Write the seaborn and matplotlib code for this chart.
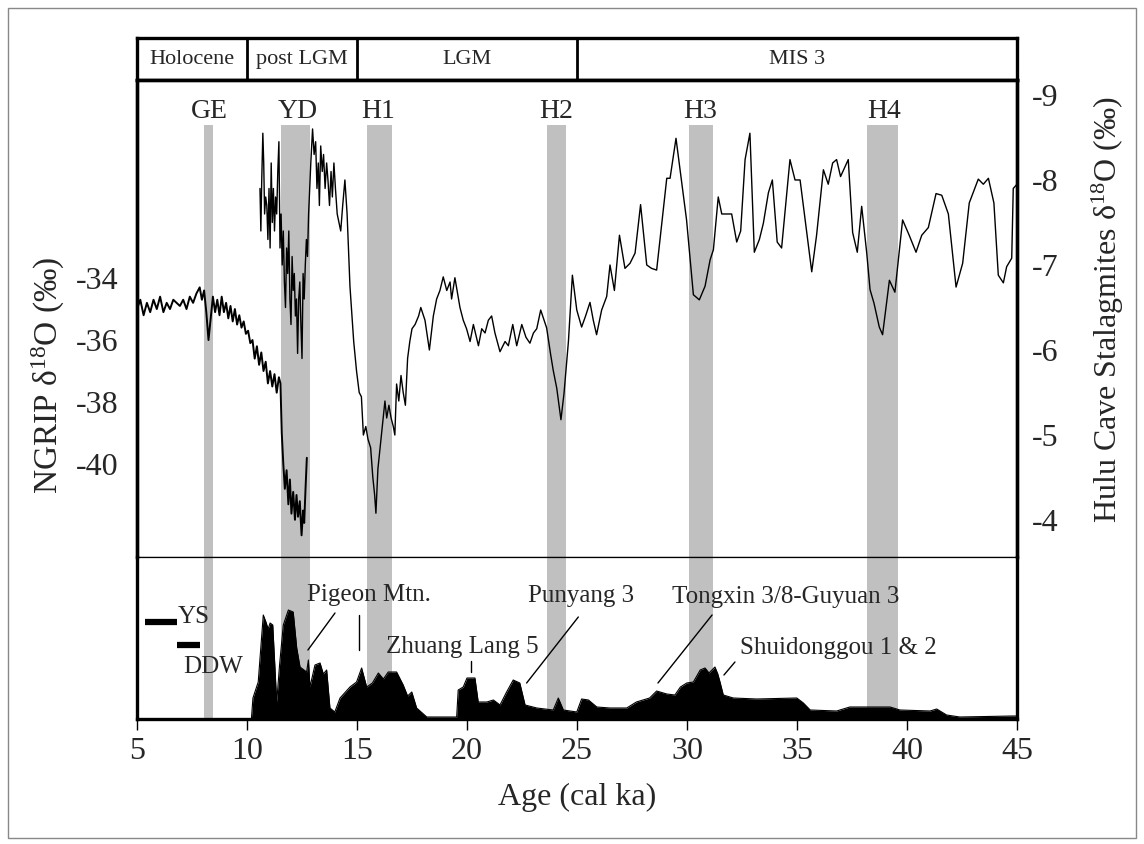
import seaborn as sns
import matplotlib.pyplot as plt
from matplotlib.patches import Rectangle

# NGRIP d18O (left axis), 5 - 12.7 ka
ngrip_age = [5.0, 5.15, 5.3, 5.45, 5.6, 5.75, 5.9, 6.05, 6.2, 6.35, 6.5, 6.65, 6.8, 6.95,
             7.1, 7.25, 7.4, 7.55, 7.7, 7.85, 7.95, 8.05, 8.15, 8.25, 8.35, 8.45, 8.55, 8.65,
             8.75, 8.85, 8.95, 9.05, 9.15, 9.25, 9.35, 9.45, 9.55, 9.65, 9.75, 9.85, 9.95,
             10.05, 10.15, 10.25, 10.35, 10.45, 10.55, 10.65, 10.75, 10.85, 10.95, 11.05,
             11.15, 11.25, 11.35, 11.45, 11.52, 11.58, 11.65, 11.72, 11.8, 11.88, 11.95,
             12.02, 12.1, 12.18, 12.25, 12.32, 12.4, 12.48, 12.55, 12.6, 12.66, 12.72]
ngrip_d18o = [-35.0, -34.7, -35.2, -34.8, -35.1, -34.7, -35.0, -34.6, -35.1, -34.8, -35.0,
              -34.7, -34.8, -34.9, -34.7, -35.0, -34.6, -34.8, -34.5, -34.3, -34.7, -34.4,
              -35.1, -36.0, -35.3, -34.6, -35.1, -34.7, -35.2, -34.6, -35.1, -34.8, -35.3,
              -34.9, -35.4, -35.0, -35.5, -35.2, -35.6, -35.4, -35.8, -35.7, -36.1, -36.0,
              -36.6, -36.2, -36.8, -36.4, -37.0, -36.7, -37.4, -37.0, -37.5, -37.1, -37.7,
              -37.2, -37.4, -39.0, -40.0, -40.8, -40.2, -41.3, -40.5, -41.6, -40.9, -41.8,
              -41.0, -41.7, -41.2, -42.3, -41.5, -41.9, -40.8, -39.8]

# Hulu Cave stalagmites d18O (right axis), 10.6 - 45 ka
hulu_age = [10.59, 10.63, 10.67, 10.72, 10.76, 10.8, 10.85, 10.9, 10.95, 11.0, 11.05, 11.1,
            11.15, 11.2, 11.25, 11.3, 11.35, 11.4, 11.45, 11.5, 11.55, 11.6, 11.65, 11.7,
            11.75, 11.8, 11.85, 11.9, 11.95, 12.0, 12.05, 12.1, 12.15, 12.2, 12.25, 12.3,
            12.35, 12.4, 12.45, 12.5, 12.55, 12.6, 12.65, 12.7, 12.75, 12.8, 12.85, 12.9,
            12.98, 13.05, 13.12, 13.18, 13.24, 13.29, 13.35, 13.42, 13.48, 13.55, 13.62,
            13.68, 13.75, 13.82, 13.88, 13.95, 14.02, 14.1, 14.18, 14.26, 14.35, 14.45,
            14.55, 14.68, 14.85, 14.98, 15.1, 15.2, 15.29, 15.4, 15.5, 15.62, 15.72, 15.8,
            15.86, 15.95, 16.05, 16.15, 16.27, 16.35, 16.45, 16.55, 16.65, 16.72, 16.8,
            16.9, 17.0, 17.1, 17.2, 17.3, 17.4, 17.5, 17.64, 17.8, 17.9, 18.09, 18.29,
            18.47, 18.62, 18.77, 18.92, 19.08, 19.23, 19.3, 19.45, 19.68, 19.83, 19.98,
            20.14, 20.29, 20.52, 20.67, 20.82, 20.97, 21.12, 21.27, 21.5, 21.73, 21.88,
            22.08, 22.26, 22.49, 22.68, 22.86, 23.02, 23.17, 23.35, 23.62, 23.8, 23.92,
            24.08, 24.27, 24.41, 24.61, 24.79, 24.99, 25.21, 25.39, 25.59, 25.74, 25.89,
            26.12, 26.35, 26.5, 26.7, 26.93, 27.18, 27.41, 27.64, 27.89, 28.17, 28.39,
            28.62, 29.08, 29.23, 29.5, 29.98, 30.29, 30.56, 30.82, 31.05, 31.2, 31.42,
            31.58, 32.03, 32.26, 32.44, 32.64, 32.86, 33.06, 33.29, 33.47, 33.7, 33.88,
            34.1, 34.3, 34.68, 34.91, 35.14, 35.67, 35.89, 36.2, 36.42, 36.62, 36.8,
            36.98, 37.33, 37.53, 37.74, 37.94, 38.17, 38.32, 38.5, 38.74, 38.89, 39.2,
            39.45, 39.8, 40.1, 40.41, 40.67, 40.97, 41.32, 41.58, 41.88, 42.23, 42.53,
            42.83, 43.24, 43.47, 43.7, 43.95, 44.15, 44.38, 44.53, 44.76, 44.83, 45.0]
hulu_d18o = [-7.9, -7.4, -8.0, -8.55, -8.2, -7.6, -7.8, -7.7, -7.3, -7.9, -7.2, -8.2,
             -7.5, -7.9, -7.4, -7.8, -7.6, -8.1, -8.45, -7.2, -7.6, -7.0, -7.4, -6.8,
             -6.5, -7.2, -6.9, -7.4, -6.6, -6.3, -7.1, -6.7, -6.9, -6.4, -6.6, -5.96,
             -6.6, -6.8, -6.3, -5.9, -6.9, -6.6, -7.0, -7.3, -7.1, -7.6, -7.9, -8.2,
             -8.6, -8.3, -8.45, -7.9, -8.2, -7.7, -8.4, -8.1, -8.3, -7.9, -8.2,
             -8.0, -7.7, -8.1, -7.8, -8.2, -7.9, -7.6, -7.5, -7.4, -7.7, -8.0,
             -7.6, -6.75, -6.1, -5.75, -5.5, -5.45, -5.0, -5.1, -4.95, -4.85, -4.5, -4.3,
             -4.08, -4.6, -4.85, -5.1, -5.4, -5.2, -5.35, -5.2, -5.1, -5.0, -5.6,
             -5.4, -5.7, -5.5, -5.35, -5.9, -6.1, -6.25, -6.3, -6.4, -6.5, -6.35, -6.0,
             -6.4, -6.6, -6.7, -6.86, -6.7, -6.8, -6.6, -6.85, -6.5, -6.35, -6.25,
             -6.1, -6.3, -6.05, -6.25, -6.2, -6.35, -6.4, -6.2, -5.98, -6.1, -6.05,
             -6.3, -6.05, -6.3, -6.15, -6.08, -6.2, -6.25, -6.47, -6.26, -5.95, -5.76,
             -5.55, -5.18, -5.49, -6.1, -6.88, -6.47, -6.27, -6.4, -6.56, -6.35, -6.18,
             -6.47, -6.63, -7.0, -6.7, -7.35, -6.96, -7.02, -7.14, -7.71, -7.0, -6.96,
             -6.94, -8.02, -8.02, -8.49, -7.53, -6.65, -6.59, -6.75, -7.06, -7.18, -7.8,
             -7.6, -7.6, -7.27, -7.4, -8.24, -8.55, -7.15, -7.3, -7.49, -7.85, -8.0,
             -7.27, -7.2, -8.24, -8.0, -8.0, -6.92, -7.35, -8.12, -7.95, -8.2, -8.24,
             -8.04, -8.24, -7.38, -7.15, -7.69, -7.14, -6.71, -6.55, -6.27, -6.18, -6.82,
             -6.68, -7.53, -7.35, -7.15, -7.35, -7.44, -7.84, -7.82, -7.6, -6.74, -7.02,
             -7.73, -8.01, -7.95, -8.02, -7.73, -6.88, -6.79, -6.98, -7.08, -7.9, -7.95]

# summed site-age density (bottom panel, relative units)
dens_age = [5.0, 10.2, 10.27, 10.51, 10.74, 10.86, 10.96, 11.05, 11.17, 11.35, 11.48, 11.65,
            11.88, 12.1, 12.26, 12.41, 12.71, 12.79, 12.86, 13.09, 13.32, 13.47, 13.62,
            13.77, 13.99, 14.23, 14.68, 14.98, 15.21, 15.44, 15.7, 15.97, 16.2, 16.42,
            16.8, 17.1, 17.3, 17.49, 17.71, 18.17, 19.53, 19.6, 19.83, 20.0, 20.36, 20.51,
            20.9, 21.2, 21.5, 21.8, 22.1, 22.4, 22.64, 23.17, 23.92, 24.15, 24.38, 24.99,
            25.21, 25.52, 25.9, 26.5, 27.26, 27.7, 28.3, 28.62, 29.08, 29.45, 29.7, 29.99,
            30.29, 30.6, 30.82, 31.0, 31.27, 31.4, 31.5, 31.65, 32.1, 33.17, 34.99, 35.29,
            35.6, 36.8, 37.4, 39.23, 39.68, 41.05, 41.35, 41.8, 42.4, 44.8, 45.0]
dens_val = [0, 0, 21, 37, 104, 97, 90, 96, 94, 17, 54, 94,
            109, 107, 71, 52, 47, 59, 32, 54, 56, 45, 49,
            11, 7, 21, 32, 37, 51, 32, 36, 46, 40, 47,
            47, 34, 23, 27, 11, 2, 2, 29, 32, 41, 41, 17,
            17, 19, 14, 27, 39, 36, 14, 11, 9, 21, 9, 7,
            20, 19, 12, 11, 11, 17, 21, 28, 25, 24, 32, 36,
            37, 49, 51, 46, 52, 45, 37, 24, 21, 20, 21, 16,
            9, 8, 12, 12, 9, 8, 10, 4, 2, 3, 3]

# cold events (shaded) and stages
event_names = ["GE", "YD", "H1", "H2", "H3", "H4"]
event_start = [8.05, 11.55, 15.45, 23.64, 30.1, 38.2]
event_end = [8.45, 12.86, 16.6, 24.5, 31.2, 39.6]
event_label_x = [8.3, 12.3, 15.95, 24.05, 30.6, 38.95]
stage_names = ["Holocene", "post LGM", "LGM", "MIS 3"]
stage_bounds = [5, 10, 15, 25, 45]

sns.set_theme(style="white")
plt.rcParams['font.family'] = ['Liberation Serif', 'DejaVu Serif']
plt.rcParams['mathtext.fontset'] = 'custom'
plt.rcParams['mathtext.rm'] = 'Liberation Serif'
plt.rcParams['mathtext.it'] = 'Liberation Serif:italic'

W, H = 1144, 844
fig = plt.figure(figsize=(W / 100, H / 100), dpi=100)
fig.patch.set_facecolor('white')
L, R = 137, 1017

def box(top, bottom):
    return [L / W, 1 - bottom / H, (R - L) / W, (bottom - top) / H]

ax_band = fig.add_axes(box(38, 80))
ax = fig.add_axes(box(80, 557))
ax_d = fig.add_axes(box(557, 719))
ax2 = ax.twinx()

shade = '#c0c0c0'
thick = 2.4

# stage band
ax_band.set_xlim(5, 45)
ax_band.set_ylim(0, 1)
ax_band.set_xticks([])
ax_band.set_yticks([])
for b in stage_bounds[1:-1]:
    ax_band.axvline(b, color='black', lw=2)
for i, name in enumerate(stage_names):
    ax_band.text((stage_bounds[i] + stage_bounds[i + 1]) / 2, 0.48, name,
                 ha='center', va='center', fontsize=16)
for s in ax_band.spines.values():
    s.set_linewidth(thick)
    s.set_color('black')

# main panel
ax.set_xlim(5, 45)
ax.set_ylim(-43.0, -27.61)
ax2.set_ylim(-3.565, -9.176)
for s0, s1 in zip(event_start, event_end):
    ax.axvspan(s0, s1, ymin=0, ymax=0.906, color=shade, lw=0)
    ax_d.axvspan(s0, s1, color=shade, lw=0)
for name, xl in zip(event_names, event_label_x):
    ax.text(xl, 0.935, name, transform=ax.get_xaxis_transform(),
            ha='center', va='center', fontsize=20)

sns.lineplot(x=ngrip_age, y=ngrip_d18o, ax=ax, color='black', lw=1.4,
             estimator=None, sort=False)
sns.lineplot(x=hulu_age, y=hulu_d18o, ax=ax2, color='black', lw=1.0,
             estimator=None, sort=False)

ax.set_xticks([])
ax.set_yticks([-34, -36, -38, -40])
ax.set_yticklabels(['-34', '-36', '-38', '-40'])
ax.tick_params(axis='y', length=0, pad=13, labelsize=23)
ax2.set_yticks([-9, -8, -7, -6, -5, -4])
ax2.set_yticklabels(['-9', '-8', '-7', '-6', '-5', '-4'])
ax2.tick_params(axis='y', length=0, pad=11, labelsize=23)
ax.set_xlabel('')
ax.set_ylabel(r'NGRIP δ$^{\mathrm{18}}$O (‰)', fontsize=24)
ax.yaxis.set_label_coords(-0.08, 0.38)
ax2.set_ylabel(r'Hulu Cave Stalagmites δ$^{\mathrm{18}}$O (‰)', fontsize=23)
ax2.yaxis.set_label_coords(1.083, 0.518)
for a in (ax, ax2):
    a.spines['left'].set_linewidth(thick)
    a.spines['right'].set_linewidth(thick)
    a.spines['top'].set_linewidth(thick)
    a.spines['bottom'].set_linewidth(0.9)
    for s in a.spines.values():
        s.set_color('black')
ax.grid(False)
ax2.grid(False)

# density panel
ax_d.fill_between(dens_age, 0, dens_val, color='black', lw=0)
sns.lineplot(x=dens_age, y=dens_val, ax=ax_d, color='black', lw=0.8,
             estimator=None, sort=False)
ax_d.set_xlim(5, 45)
ax_d.set_ylim(0, 162)
ax_d.set_yticks([])
ax_d.set_xticks(range(5, 46, 5))
ax_d.tick_params(axis='x', bottom=True, length=8, width=1, direction='out',
                 pad=5, labelsize=23, color='black')
ax_d.set_xlabel('Age (cal ka)', fontsize=23, labelpad=12)
ax_d.set_ylabel('')
ax_d.spines['top'].set_visible(False)
for k in ('left', 'right', 'bottom'):
    ax_d.spines[k].set_linewidth(thick)
    ax_d.spines[k].set_color('black')

# record bars and site labels
ax_d.plot([5.36, 6.8], [97, 97], color='black', lw=4.5, solid_capstyle='butt')
ax_d.plot([6.8, 7.86], [74, 74], color='black', lw=4.5, solid_capstyle='butt')
ax_d.text(6.86, 102, 'YS', ha='left', va='center', fontsize=18)
ax_d.text(7.09, 52, 'DDW', ha='left', va='center', fontsize=18)
ax_d.text(15.52, 124, 'Pigeon Mtn.', ha='center', va='center', fontsize=18)
ax_d.plot([14.0, 12.77], [106, 69], color='black', lw=1)
ax_d.plot([15.09, 15.09], [104, 69], color='black', lw=1)
ax_d.text(19.77, 72, 'Zhuang Lang 5', ha='center', va='center', fontsize=18)
ax_d.plot([20.18, 20.18], [58, 47], color='black', lw=1)
ax_d.text(25.2, 123, 'Punyang 3', ha='center', va='center', fontsize=18)
ax_d.plot([25.06, 22.71], [102, 36], color='black', lw=1)
ax_d.text(34.48, 122, 'Tongxin 3/8-Guyuan 3', ha='center', va='center', fontsize=18)
ax_d.plot([31.14, 28.68], [104, 36], color='black', lw=1)
ax_d.text(36.89, 71, 'Shuidonggou 1 & 2', ha='center', va='center', fontsize=18)
ax_d.plot([32.18, 31.68], [57, 44], color='black', lw=1)

# thin outer frame of the figure
fig.add_artist(Rectangle((8 / W, 6 / H), 1128 / W, 830 / H, transform=fig.transFigure,
                         fill=False, edgecolor='#888888', lw=1))

fig.savefig('out.png', dpi=100, facecolor='white')
